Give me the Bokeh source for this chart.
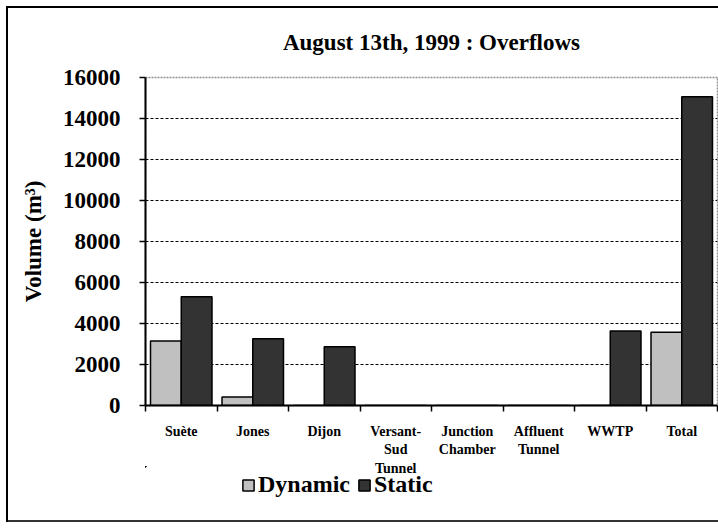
from bokeh.plotting import figure
from bokeh.layouts import column
from bokeh.models import Range1d, FixedTicker, Legend, LegendItem, ColumnDataSource
from bokeh.transform import dodge
from bokeh.embed import file_html
from bokeh.resources import INLINE

categories = ["Suète", "Jones", "Dijon", "Versant-Sud Tunnel", "Junction Chamber",
              "Affluent Tunnel", "WWTP", "Total"]
tick_labels = ["Suète", "Jones", "Dijon", "Versant-\nSud\nTunnel", "Junction\nChamber",
               "Affluent\nTunnel", "WWTP", "Total"]
dynamic = [3150, 420, 0, 0, 0, 0, 0, 3570]
static = [5300, 3260, 2860, 0, 0, 0, 3640, 15060]
y_ticks = [0, 2000, 4000, 6000, 8000, 10000, 12000, 14000, 16000]
series_names = ["Dynamic", "Static"]
series_colors = ["#c0c0c0", "#333333"]

FONT = "Liberation Serif"
BAR_W = 0.43

idx = list(range(len(categories)))
src = ColumnDataSource(dict(
    cat=categories,
    pos=[i + 0.5 for i in idx],
    dyn=dynamic,
    sta=static,
))

p = figure(width=718, height=479, output_backend="svg", toolbar_location=None,
           x_range=Range1d(0, len(categories)), y_range=Range1d(0, 16000),
           min_border_left=145, min_border_right=1, min_border_top=77, min_border_bottom=74,
           title="August 13th, 1999 : Overflows")

p.border_fill_color = None
p.background_fill_color = "white"

p.title.text_font = FONT
p.title.text_font_size = "23px"
p.title.text_font_style = "bold"
p.title.align = "center"
p.title.text_color = "black"
p.title.standoff = 46

p.vbar(x=dodge("pos", -BAR_W / 2), top="dyn", width=BAR_W, source=src,
       fill_color=series_colors[0], line_color="black", line_width=1.5)
p.vbar(x=dodge("pos", BAR_W / 2), top="sta", width=BAR_W, source=src,
       fill_color=series_colors[1], line_color="black", line_width=1.5)

# x axis
xa = p.xaxis[0]
xa.ticker = FixedTicker(ticks=[i + 0.5 for i in idx], minor_ticks=list(range(len(categories) + 1)))
xa.major_label_overrides = {i + 0.5: lab for i, lab in zip(idx, tick_labels)}
xa.major_tick_line_color = None
xa.major_tick_out = 6
xa.minor_tick_out = 6
xa.minor_tick_in = 0
xa.minor_tick_line_color = "black"
xa.minor_tick_line_width = 1.5
xa.axis_line_color = "black"
xa.axis_line_width = 2
xa.major_label_text_font = FONT
xa.major_label_text_font_size = "14px"
xa.major_label_text_font_style = "bold"
xa.major_label_text_color = "black"
xa.major_label_text_line_height = 1.25
xa.major_label_standoff = 12

# y axis
ya = p.yaxis[0]
ya.ticker = FixedTicker(ticks=y_ticks)
ya.minor_tick_line_color = None
ya.major_tick_out = 6
ya.major_tick_in = 0
ya.major_tick_line_width = 1.5
ya.axis_line_width = 2
ya.axis_line_color = "black"
ya.major_label_text_font = FONT
ya.major_label_text_font_size = "23px"
ya.major_label_text_font_style = "bold"
ya.major_label_text_color = "black"
ya.major_label_standoff = 19
ya.axis_label = "Volume (m³)"
ya.axis_label_text_font = FONT
ya.axis_label_text_font_size = "23px"
ya.axis_label_text_font_style = "bold"
ya.axis_label_text_color = "black"
ya.axis_label_standoff = 14

p.xgrid.grid_line_color = None
p.ygrid.ticker = FixedTicker(ticks=y_ticks[1:-1])
p.ygrid.grid_line_color = "black"
p.ygrid.grid_line_dash = "3 2"
p.ygrid.grid_line_width = 1

p.outline_line_color = "#909090"
p.outline_line_width = 1.5
p.outline_line_dash = "2 1"

# legend in its own small transparent figure, slightly overlapping the chart's bottom margin;
# its glyph renderers lie entirely outside its ranges, only the legend is visible
lf = figure(width=718, height=62, output_backend="svg", toolbar_location=None,
            x_range=Range1d(100, 101), y_range=Range1d(-2, -1),
            x_axis_location=None, y_axis_location=None,
            min_border_left=0, min_border_right=0, min_border_top=0, min_border_bottom=0,
            margin=(-13, 0, 0, 0))
lf.border_fill_color = None
lf.background_fill_color = None
lf.outline_line_color = None
lf.grid.grid_line_color = None
leg_renderers = [lf.vbar(x="pos", top=field, width=BAR_W, source=src, fill_color=c,
                         line_color="black", line_width=1.5)
                 for field, c in zip(["dyn", "sta"], series_colors)]
legend = Legend(items=[LegendItem(label=n, renderers=[r]) for n, r in zip(series_names, leg_renderers)],
                orientation="horizontal", location=(96, 30),
                label_text_font=FONT, label_text_font_size="24px",
                label_text_font_style="bold", label_text_color="black",
                glyph_width=14, glyph_height=14, label_standoff=3, spacing=7,
                border_line_color=None, background_fill_alpha=0,
                padding=0, margin=0)
lf.add_layout(legend, "center")

layout = column(p, lf, spacing=0, styles={
    "background": ("linear-gradient(#000,#000) 6px 6px / 2px 516px no-repeat, "
                   "linear-gradient(#000,#000) 6px 6px / 712px 2px no-repeat, "
                   "linear-gradient(#333,#333) 6px 520px / 712px 2px no-repeat, white"),
})

open("out.html", "w").write(file_html(layout, INLINE))
